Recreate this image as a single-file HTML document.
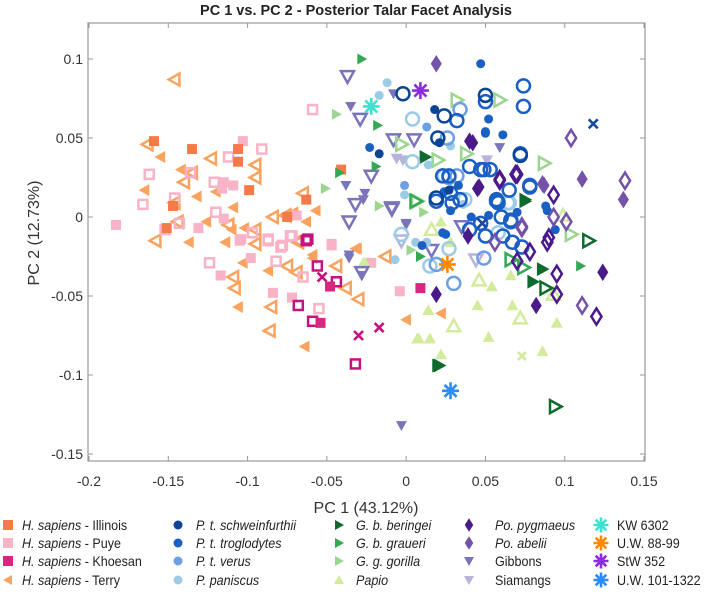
<!DOCTYPE html>
<html><head><meta charset="utf-8"><style>
body{margin:0;background:#fff;}
svg{display:block;font-family:"Liberation Sans",sans-serif;}
</style></head><body>
<svg id="c" width="709" height="596"></svg>
<script>
const xTicks=[-0.2,-0.15,-0.1,-0.05,0,0.05,0.1,0.15];
const yTicks=[0.1,0.05,0,-0.05,-0.1,-0.15];
const xTickLabels=["-0.2","-0.15","-0.1","-0.05","0","0.05","0.1","0.15"];
const yTickLabels=["0.1","0.05","0","-0.05","-0.1","-0.15"];
const illinoisFilled=[[-0.159,0.048],[-0.135,0.043],[-0.106,0.043],[-0.106,0.035],[-0.099,0.017],[-0.063,0.011],[-0.041,0.03],[-0.151,-0.007],[-0.075,0.0],[-0.147,0.007]];
const puyeFilled=[[-0.103,0.048],[-0.115,0.022],[-0.109,0.02],[-0.116,0.018],[-0.183,-0.005],[-0.131,-0.007],[-0.115,-0.001],[-0.104,-0.014],[-0.047,-0.017],[-0.069,0.001],[-0.105,-0.015],[-0.098,-0.026],[-0.117,-0.037],[-0.084,-0.048],[-0.072,-0.051],[-0.047,-0.018],[-0.022,-0.029],[-0.004,-0.047]];
const puyeOpen=[[-0.059,0.068],[-0.091,0.043],[-0.112,0.038],[-0.162,0.027],[-0.136,0.028],[-0.121,0.022],[-0.166,0.008],[-0.146,0.012],[-0.12,0.003],[-0.152,-0.008],[-0.143,-0.004],[-0.097,-0.01],[-0.087,-0.014],[-0.073,-0.012],[-0.078,-0.018],[-0.087,-0.015],[-0.079,-0.019],[-0.072,-0.012],[-0.124,-0.029],[-0.082,-0.028],[-0.065,-0.038],[-0.055,-0.058]];
const khoesanFilled=[[-0.048,-0.044],[-0.054,-0.067],[0.009,-0.045]];
const khoesanOpen=[[-0.062,-0.014],[-0.063,-0.015],[-0.056,-0.031],[-0.044,-0.041],[-0.068,-0.056],[-0.059,-0.066],[-0.032,-0.093]];
const khoesanX=[[-0.053,-0.038],[-0.03,-0.075],[-0.017,-0.07]];
const terryFilled=[[-0.155,0.038],[-0.142,0.03],[-0.165,0.017],[-0.132,0.013],[-0.12,0.016],[-0.109,0.006],[-0.126,-0.003],[-0.11,-0.008],[-0.102,-0.007],[-0.137,-0.016],[-0.114,-0.016],[-0.063,-0.003],[-0.057,0.004],[-0.071,0.003],[-0.031,-0.02],[-0.059,-0.024],[-0.114,-0.016],[-0.103,-0.029],[-0.087,-0.034],[-0.106,-0.057],[-0.064,-0.082],[-0.032,-0.02],[0.0,-0.065],[-0.059,-0.026],[0.022,-0.061]];
const terryOpen=[[-0.146,0.087],[-0.163,0.046],[-0.123,0.037],[-0.095,0.033],[-0.095,0.025],[-0.14,0.022],[-0.135,0.028],[-0.146,0.009],[-0.144,-0.003],[-0.158,-0.015],[-0.084,0.0],[-0.065,0.015],[-0.076,0.001],[-0.112,-0.005],[-0.095,-0.008],[-0.068,-0.015],[-0.095,-0.017],[-0.109,-0.038],[-0.108,-0.045],[-0.085,-0.057],[-0.086,-0.072],[-0.068,-0.016],[-0.075,-0.031],[-0.044,-0.031],[-0.038,-0.045],[-0.03,-0.052],[-0.013,-0.025],[-0.069,-0.035]];
const schwFilled=[[0.018,0.068],[-0.017,0.04],[0.021,0.047],[0.027,0.017]];
const schwOpen=[[-0.002,0.078],[0.024,0.064],[0.05,0.077],[0.02,0.05],[0.072,0.039],[0.019,0.012]];
const trogFilled=[[0.047,0.097],[0.052,0.062],[0.05,0.053],[-0.023,0.044],[0.061,0.052],[0.033,0.02],[0.025,-0.011],[0.01,-0.018],[0.028,0.004],[0.052,0.001],[0.094,-0.008],[0.088,0.007],[0.07,0.003],[0.05,0.054],[0.024,0.016],[0.041,0.0],[0.089,0.004],[0.094,-0.008],[0.023,-0.01]];
const trogOpen=[[0.074,0.083],[0.074,0.07],[0.05,0.073],[0.032,0.061],[0.04,0.032],[0.049,0.03],[0.078,0.019],[0.029,0.009],[0.057,0.01],[0.023,0.026],[0.05,-0.012],[0.067,-0.016],[0.073,-0.019],[0.066,-0.003],[0.019,0.01],[0.058,0.009],[0.047,0.03],[0.053,0.03],[0.028,0.015],[0.034,0.011],[0.027,0.026],[0.057,0.011],[0.065,0.017],[0.066,-0.002],[0.078,0.02],[0.06,0.0],[0.047,-0.004],[0.072,0.04],[0.061,-0.012],[0.04,-0.008]];
const trogX=[[0.118,0.059],[0.048,-0.004]];
const verusFilled=[[0.013,0.057],[-0.001,0.02]];
const verusOpen=[[0.034,0.068],[0.026,0.05],[0.027,0.025],[0.03,-0.042],[0.049,-0.026],[0.019,-0.03],[0.032,0.026]];
const paniscusFilled=[[-0.012,0.085],[-0.017,0.077],[0.028,0.045],[0.014,0.033],[-0.001,0.014],[0.006,-0.016],[0.013,-0.016],[-0.007,-0.027],[0.036,0.008]];
const paniscusOpen=[[0.004,0.062],[0.065,0.009],[0.004,0.035],[-0.003,-0.011],[0.027,-0.02],[0.015,-0.031],[0.058,-0.01],[0.037,0.011],[0.064,0.009],[0.024,0.026]];
const beringeiFilled=[[0.012,0.038],[0.075,0.01],[0.021,-0.094],[0.086,-0.033],[0.08,-0.041],[0.02,-0.094],[0.075,0.011]];
const beringeiOpen=[[0.094,-0.12],[0.088,-0.045],[0.115,-0.015]];
const graueriFilled=[[-0.018,0.058],[-0.019,0.032],[-0.028,0.1],[-0.042,0.028],[0.11,-0.031],[0.009,-0.025]];
const graueriOpen=[[0.006,0.01],[0.066,-0.027],[0.074,-0.032]];
const gorillaFilled=[[-0.044,0.065],[-0.051,0.018],[-0.017,0.007],[0.011,0.003],[0.003,-0.021]];
const gorillaOpen=[[0.032,0.074],[0.059,0.074],[0.087,0.034],[-0.003,0.046],[0.02,0.036],[0.007,0.01],[0.038,0.04],[0.104,-0.011]];
const papioFilled=[[-0.027,-0.029],[0.014,-0.059],[0.007,-0.077],[0.015,-0.077],[0.022,-0.003],[0.014,-0.059],[0.008,-0.077],[0.015,-0.077],[0.022,-0.087],[0.045,-0.056],[0.052,-0.076],[0.067,-0.056],[0.054,-0.044],[0.066,-0.037],[0.095,-0.067],[0.086,-0.085],[-0.026,-0.029],[0.028,-0.016]];
const papioOpen=[[0.03,-0.069],[0.072,-0.064],[0.046,-0.04],[0.016,-0.008],[0.099,0.001],[0.093,-0.049]];
const papioX=[[0.073,-0.088]];
const pygFilled=[[0.042,0.047],[0.046,0.019],[0.039,-0.012],[0.019,-0.049],[0.082,-0.056],[0.124,-0.035],[0.04,0.048],[0.045,0.018]];
const pygOpen=[[0.059,0.023],[0.069,0.027],[0.093,0.014],[0.089,-0.016],[0.078,-0.022],[0.07,-0.028],[0.095,-0.036],[0.095,-0.049],[0.12,-0.063],[0.059,0.024],[0.07,0.027],[0.09,-0.013]];
const abeliiFilled=[[0.019,0.097],[0.111,0.024],[0.137,0.011],[0.086,0.021],[0.087,0.02]];
const abeliiOpen=[[0.104,0.05],[0.138,0.023],[0.073,-0.007],[0.056,-0.016],[0.111,-0.056],[0.093,0.0],[0.101,-0.003],[0.073,-0.006]];
const gibbonFilled=[[-0.035,0.07],[-0.038,0.02],[-0.026,0.015],[-0.036,-0.024],[-0.036,-0.026],[-0.003,-0.132],[-0.008,0.078],[0.059,0.044],[-0.027,0.011],[0.0,-0.004],[0.0,-0.005],[-0.028,-0.037]];
const gibbonOpen=[[-0.037,0.089],[-0.029,0.062],[-0.032,0.008],[-0.036,-0.003],[-0.028,-0.035],[-0.008,0.049],[0.005,0.049],[-0.022,0.026],[-0.009,0.005],[-0.009,0.006],[0.035,-0.006],[0.016,-0.021]];
const siamangFilled=[[-0.006,0.037],[-0.002,0.036],[0.051,0.036]];
const siamangOpen=[[0.044,-0.027],[-0.003,-0.015]];
const fossils=[["KW 6302",-0.022,0.07,"#3ee3cf"],["U.W. 88-99",0.026,-0.03,"#ff8a00"],["StW 352",0.009,0.08,"#8a2be2"],["U.W. 101-1322",0.028,-0.11,"#2b8cf8"]];

const svg=document.getElementById('c');
const NS='http://www.w3.org/2000/svg';
const L=88,R=645,T=23,B=461;
function sx(v){return 89+(v+0.2)/0.35*555;}
function sy(v){return 59+(0.1-v)/0.25*395;}
function mk(tag,attrs,parent){const e=document.createElementNS(NS,tag);for(const k in attrs)e.setAttribute(k,attrs[k]);(parent||svg).appendChild(e);return e;}

const title=mk('text',{x:356,y:15,'text-anchor':'middle','font-size':'14.5','font-weight':'bold',fill:'#222'});
title.textContent='PC 1 vs. PC 2 - Posterior Talar Facet Analysis';



const plot=mk('g',{});


mk('rect',{x:L,y:T,width:R-L,height:B-T,fill:'#fff',stroke:'#999','stroke-width':1.2},plot);

const axG=mk('g',{});


xTicks.forEach((v,i)=>{
  const x=sx(v);
  mk('line',{x1:x,y1:B,x2:x,y2:B-5,stroke:'#999'},axG);
  mk('line',{x1:x,y1:T,x2:x,y2:T+5,stroke:'#999'},axG);
  const t=mk('text',{x:x,y:486,'text-anchor':'middle','font-size':'14',fill:'#333'},axG);
  t.textContent=xTickLabels[i];
  
  
});
yTicks.forEach((v,i)=>{
  const y=sy(v);
  mk('line',{x1:L,y1:y,x2:L+5,y2:y,stroke:'#999'},axG);
  mk('line',{x1:R,y1:y,x2:R-5,y2:y,stroke:'#999'},axG);
  const t=mk('text',{x:83,y:y+5,'text-anchor':'end','font-size':'14',fill:'#333'},axG);
  t.textContent=yTickLabels[i];
  
  
});
const xl=mk('text',{x:366,y:513,'text-anchor':'middle','font-size':'16',fill:'#333'});
xl.textContent='PC 1 (43.12%)';


const yl=mk('text',{x:0,y:0,'text-anchor':'middle','font-size':'16',fill:'#333',transform:'translate(39,233) rotate(-90)'});
yl.textContent='PC 2 (12.73%)';



function marker(g,shape,x,y,color,open,s){
  const st=open?{fill:'none',stroke:color,'stroke-width':2.5}:{fill:color,stroke:'none'};
  const h=s/2;
  if(shape==='sq'){const hh=open?h-1:h;return mk('rect',Object.assign({x:x-hh,y:y-hh,width:2*hh,height:2*hh},st),g);}
  if(shape==='ci'){return mk('circle',Object.assign({cx:x,cy:y,r:open?h:h-0.5},st),g);}
  let p;
  if(shape==='tl')p=[[x-h,y],[x+h*0.8,y-h],[x+h*0.8,y+h]];
  if(shape==='tr')p=[[x+h,y],[x-h*0.8,y-h],[x-h*0.8,y+h]];
  if(shape==='tu')p=[[x,y-h],[x-h,y+h*0.8],[x+h,y+h*0.8]];
  if(shape==='td')p=[[x,y+h],[x-h,y-h*0.8],[x+h,y-h*0.8]];
  if(shape==='di')p=[[x,y-h*1.35],[x+h*0.85,y],[x,y+h*1.35],[x-h*0.85,y]];
  if(p)return mk('polygon',Object.assign({points:p.map(q=>q.join(',')).join(' ')},st),g);
  if(shape==='x'){const gg=mk('g',{},g);mk('path',{d:`M${x-h} ${y-h}L${x+h} ${y+h}M${x-h} ${y+h}L${x+h} ${y-h}`,stroke:color,'stroke-width':2.6},gg);return gg;}
  if(shape==='as'){const gg=mk('g',{},g);let d='';for(let k=0;k<4;k++){const a=k*Math.PI/4;d+=`M${x-h*Math.cos(a)} ${y-h*Math.sin(a)}L${x+h*Math.cos(a)} ${y+h*Math.sin(a)}`;}mk('path',{d:d,stroke:color,'stroke-width':2.6},gg);return gg;}
}

const series=[
 ['h-sapiens-terry-open',terryOpen,'tl','#f9a35e',true,12],
 ['h-sapiens-terry',terryFilled,'tl','#f9a35e',false,12],
 ['h-sapiens-puye-open',puyeOpen,'sq','#f9b3c6',true,11],
 ['h-sapiens-puye',puyeFilled,'sq','#f9b3c6',false,10],
 ['h-sapiens-illinois',illinoisFilled,'sq','#f57a4a',false,10],
 ['h-sapiens-khoesan-open',khoesanOpen,'sq','#c4137f',true,11],
 ['h-sapiens-khoesan',khoesanFilled,'sq','#d9277f',false,10],
 ['h-sapiens-khoesan-x',khoesanX,'x','#c4137f',false,9],
 ['papio',papioFilled,'tu','#d3eb9c',false,12],
 ['papio-open',papioOpen,'tu','#d3eb9c',true,13],
 ['papio-x',papioX,'x','#d3eb9c',false,8],
 ['gibbons',gibbonFilled,'td','#7a74bb',false,11],
 ['gibbons-open',gibbonOpen,'td','#7a74bb',true,13],
 ['siamangs',siamangFilled,'td','#b7b4dc',false,12],
 ['siamangs-open',siamangOpen,'td','#b7b4dc',true,13],
 ['g-g-gorilla',gorillaFilled,'tr','#9ad68f',false,11],
 ['g-g-gorilla-open',gorillaOpen,'tr','#9ad68f',true,13],
 ['g-b-graueri',graueriFilled,'tr','#34a853',false,11],
 ['g-b-graueri-open',graueriOpen,'tr','#34a853',true,13],
 ['g-b-beringei',beringeiFilled,'tr','#0e6b2d',false,14],
 ['g-b-beringei-open',beringeiOpen,'tr','#0e6b2d',true,13],
 ['p-paniscus',paniscusFilled,'ci','#9ccbe6',false,10],
 ['p-paniscus-open',paniscusOpen,'ci','#9ccbe6',true,13],
 ['p-t-verus',verusFilled,'ci','#6c9fe4',false,10],
 ['p-t-verus-open',verusOpen,'ci','#6c9fe4',true,13],
 ['p-t-troglodytes',trogFilled,'ci','#1a5fc4',false,10],
 ['p-t-troglodytes-open',trogOpen,'ci','#1a5fc4',true,13],
 ['p-t-troglodytes-x',trogX,'x','#154a9c',false,9],
 ['p-t-schweinfurthii',schwFilled,'ci','#0c4595',false,10],
 ['p-t-schweinfurthii-open',schwOpen,'ci','#0c4595',true,13],
 ['po-abelii',abeliiFilled,'di','#7352a8',false,13],
 ['po-abelii-open',abeliiOpen,'di','#7352a8',true,12],
 ['po-pygmaeus',pygFilled,'di','#4b1a8a',false,13],
 ['po-pygmaeus-open',pygOpen,'di','#4b1a8a',true,12]
];
series.forEach(s=>{
  const g=mk('g',{},plot);
  
  
  s[1].forEach(pt=>{
    const m=marker(g,s[2],sx(pt[0]),sy(pt[1]),s[3],s[4],s[5]);
    
    
  });
});
fossils.forEach(f=>{
  const m=marker(plot,'as',sx(f[1]),sy(f[2]),f[3],false,17);
  
  
});

const legend=[
 [8,22,525,'sq','#f57a4a','H. sapiens',' - Illinois'],
 [8,22,543,'sq','#f9b3c6','H. sapiens',' - Puye'],
 [8,22,561,'sq','#d9277f','H. sapiens',' - Khoesan'],
 [8,22,580,'tl','#f9a35e','H. sapiens',' - Terry'],
 [178,196,525,'ci','#0c4595','P. t. schweinfurthii',''],
 [178,196,543,'ci','#1a5fc4','P. t. troglodytes',''],
 [178,196,561,'ci','#6c9fe4','P. t. verus',''],
 [178,196,580,'ci','#9ccbe6','P. paniscus',''],
 [339,356,525,'tr','#0e6b2d','G. b. beringei',''],
 [339,356,543,'tr','#34a853','G. b. graueri',''],
 [339,356,561,'tr','#9ad68f','G. g. gorilla',''],
 [339,356,580,'tu','#d3eb9c','Papio',''],
 [469,495,525,'di','#4b1a8a','Po. pygmaeus',''],
 [469,495,543,'di','#7352a8','Po. abelii',''],
 [469,495,561,'td','#7a74bb','','Gibbons'],
 [469,495,580,'td','#b7b4dc','','Siamangs'],
 [601,617,525,'as','#3ee3cf','','KW 6302'],
 [601,617,543,'as','#ff8a00','','U.W. 88-99'],
 [601,617,561,'as','#8a2be2','','StW 352'],
 [601,617,580,'as','#2b8cf8','','U.W. 101-1322']
];
const lg=mk('g',{});


legend.forEach(e=>{
  const g=mk('g',{},lg);
  
  
  marker(g,e[3],e[0],e[2],e[4],false,e[3]==='as'?15:10);
  const t=mk('text',{x:0,y:0,'font-size':'13.5',fill:'#222',transform:`translate(${e[1]},${e[2]+5}) scale(0.93,1)`},g);
  if(e[5]){const ts=mk('tspan',{'font-style':'italic'},t);ts.textContent=e[5];}
  if(e[6]){const ts=mk('tspan',{},t);ts.textContent=e[6];}
});
</script>
</body></html>
